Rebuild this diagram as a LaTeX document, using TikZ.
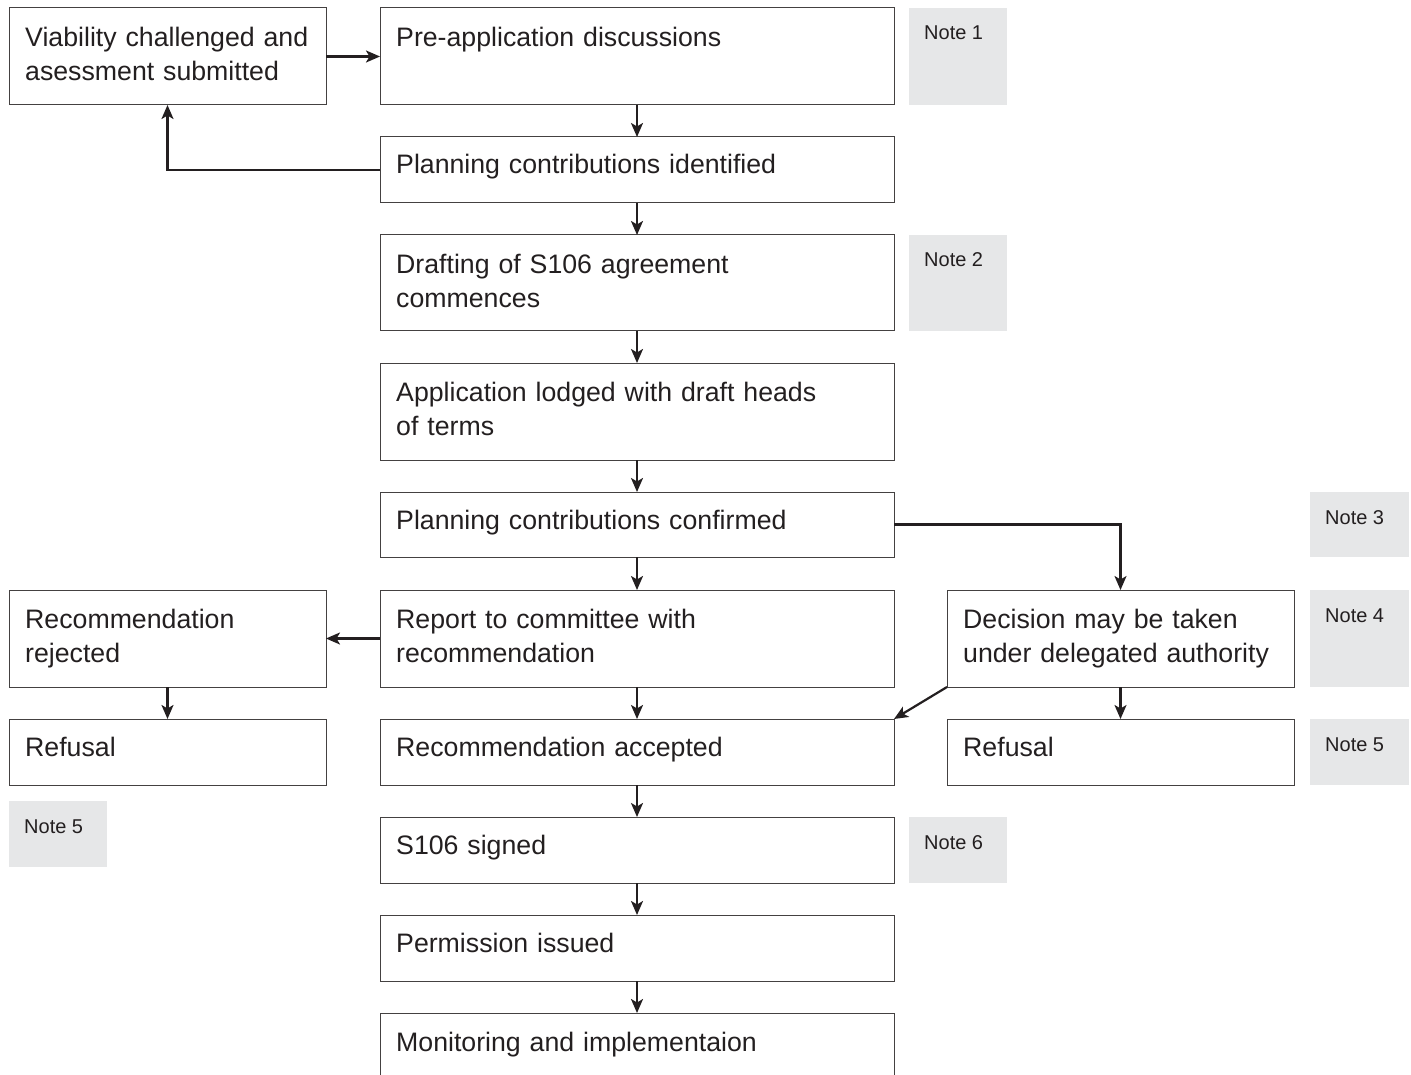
\documentclass[tikz,border=0pt]{standalone}
\usepackage{fontspec}
\setmainfont{Liberation Sans}
\usetikzlibrary{arrows.meta}
\definecolor{notegray}{HTML}{E6E7E8}
\definecolor{ink}{HTML}{231F20}
\tikzset{
  box/.style={draw=ink!85, line width=1pt, anchor=north west, inner sep=0pt, outer sep=0pt, minimum width=514pt},
  note/.style={fill=notegray, anchor=north west, inner sep=0pt, outer sep=0pt, minimum width=98pt},
  txt/.style={anchor=base west, inner sep=0pt, text=ink, text width=490pt, align=left, font=\fontsize{26.7}{34}\selectfont},
  notetxt/.style={anchor=base west, inner sep=0pt, text=ink, font=\fontsize{20}{24}\selectfont},
  arr/.style={-{Stealth[length=14pt,width=12pt,inset=3.5pt]}, line width=2.2pt, draw=ink}
}
\begin{document}
\begin{tikzpicture}[x=1pt, y=-1pt]
        \clip (0,0) rectangle (1411,1075);

        % Colonna centrale
        \node[box, minimum height=97pt] (pre) at (380,8) {};
        \node[txt] (pre-t) at ([shift={(16,39)}]pre.north west) {Pre-application discussions};
        \node[box, minimum height=66pt] (ident) at (380,137) {};
        \node[txt] (ident-t) at ([shift={(16,37)}]ident.north west) {Planning contributions identified};
        \node[box, minimum height=96pt] (draft) at (380,235) {};
        \node[txt] (draft-t) at ([shift={(16,39)}]draft.north west) {Drafting of S106 agreement\\commences};
        \node[box, minimum height=97pt] (lodged) at (380,363) {};
        \node[txt] (lodged-t) at ([shift={(16,38)}]lodged.north west) {Application lodged with draft heads\\of terms};
        \node[box, minimum height=65pt] (confirm) at (380,492) {};
        \node[txt] (confirm-t) at ([shift={(16,37)}]confirm.north west) {Planning contributions confirmed};
        \node[box, minimum height=97pt] (report) at (380,590) {};
        \node[txt] (report-t) at ([shift={(16,38)}]report.north west) {Report to committee with\\recommendation};
        \node[box, minimum height=66pt] (accept) at (380,719) {};
        \node[txt] (accept-t) at ([shift={(16,37)}]accept.north west) {Recommendation accepted};
        \node[box, minimum height=66pt] (signed) at (380,817) {};
        \node[txt] (signed-t) at ([shift={(16,37)}]signed.north west) {S106 signed};
        \node[box, minimum height=66pt] (perm) at (380,915) {};
        \node[txt] (perm-t) at ([shift={(16,37)}]perm.north west) {Permission issued};
        \node[box, minimum height=97pt] (monit) at (380,1013) {};
        \node[txt] (monit-t) at ([shift={(16,38)}]monit.north west) {Monitoring and implementaion};

        % Colonna sinistra
        \node[box, minimum width=317pt, minimum height=97pt] (viab) at (9,8) {};
        \node[txt] (viab-t) at ([shift={(16,39)}]viab.north west) {Viability challenged and\\asessment submitted};
        \node[box, minimum width=317pt, minimum height=97pt] (reject) at (9,590) {};
        \node[txt] (reject-t) at ([shift={(16,38)}]reject.north west) {Recommendation\\rejected};
        \node[box, minimum width=317pt, minimum height=66pt] (refuseL) at (9,719) {};
        \node[txt] (refuseL-t) at ([shift={(16,37)}]refuseL.north west) {Refusal};

        % Colonna destra
        \node[box, minimum width=347pt, minimum height=97pt] (deleg) at (947,590) {};
        \node[txt] (deleg-t) at ([shift={(16,38)}]deleg.north west) {Decision may be taken\\under delegated authority};
        \node[box, minimum width=347pt, minimum height=66pt] (refuseR) at (947,719) {};
        \node[txt] (refuseR-t) at ([shift={(16,37)}]refuseR.north west) {Refusal};

        % Note
        \node[note, minimum height=97pt] (n1) at (909,8) {};
        \node[notetxt] (n1-t) at ([shift={(15,32)}]n1.north west) {Note 1};
        \node[note, minimum height=96pt] (n2) at (909,235) {};
        \node[notetxt] (n2-t) at ([shift={(15,32)}]n2.north west) {Note 2};
        \node[note, minimum width=99pt, minimum height=65pt] (n3) at (1310,492) {};
        \node[notetxt] (n3-t) at ([shift={(15,32)}]n3.north west) {Note 3};
        \node[note, minimum width=99pt, minimum height=97pt] (n4) at (1310,590) {};
        \node[notetxt] (n4-t) at ([shift={(15,32)}]n4.north west) {Note 4};
        \node[note, minimum width=99pt, minimum height=66pt] (n5r) at (1310,719) {};
        \node[notetxt] (n5r-t) at ([shift={(15,32)}]n5r.north west) {Note 5};
        \node[note, minimum height=66pt] (n5l) at (9,801) {};
        \node[notetxt] (n5l-t) at ([shift={(15,32)}]n5l.north west) {Note 5};
        \node[note, minimum height=66pt] (n6) at (909,817) {};
        \node[notetxt] (n6-t) at ([shift={(15,32)}]n6.north west) {Note 6};

        % Frecce
        \draw[arr] (viab.east) -- (pre.west);
        \draw[arr] (pre.south) -- (ident.north);
        \draw[arr] (ident.west) -| (viab.south);
        \draw[arr] (ident.south) -- (draft.north);
        \draw[arr] (draft.south) -- (lodged.north);
        \draw[arr] (lodged.south) -- (confirm.north);
        \draw[arr] (confirm.south) -- (report.north);
        \draw[arr] (confirm.east) -| (deleg.north);
        \draw[arr] (report.west) -- (reject.east);
        \draw[arr] (report.south) -- (accept.north);
        \draw[arr] (reject.south) -- (refuseL.north);
        \draw[arr] (deleg.south) -- (refuseR.north);
        \draw[arr] (deleg.south west) -- (accept.north east);
        \draw[arr] (accept.south) -- (signed.north);
        \draw[arr] (signed.south) -- (perm.north);
        \draw[arr] (perm.south) -- (monit.north);
    \end{tikzpicture}
\end{document}
